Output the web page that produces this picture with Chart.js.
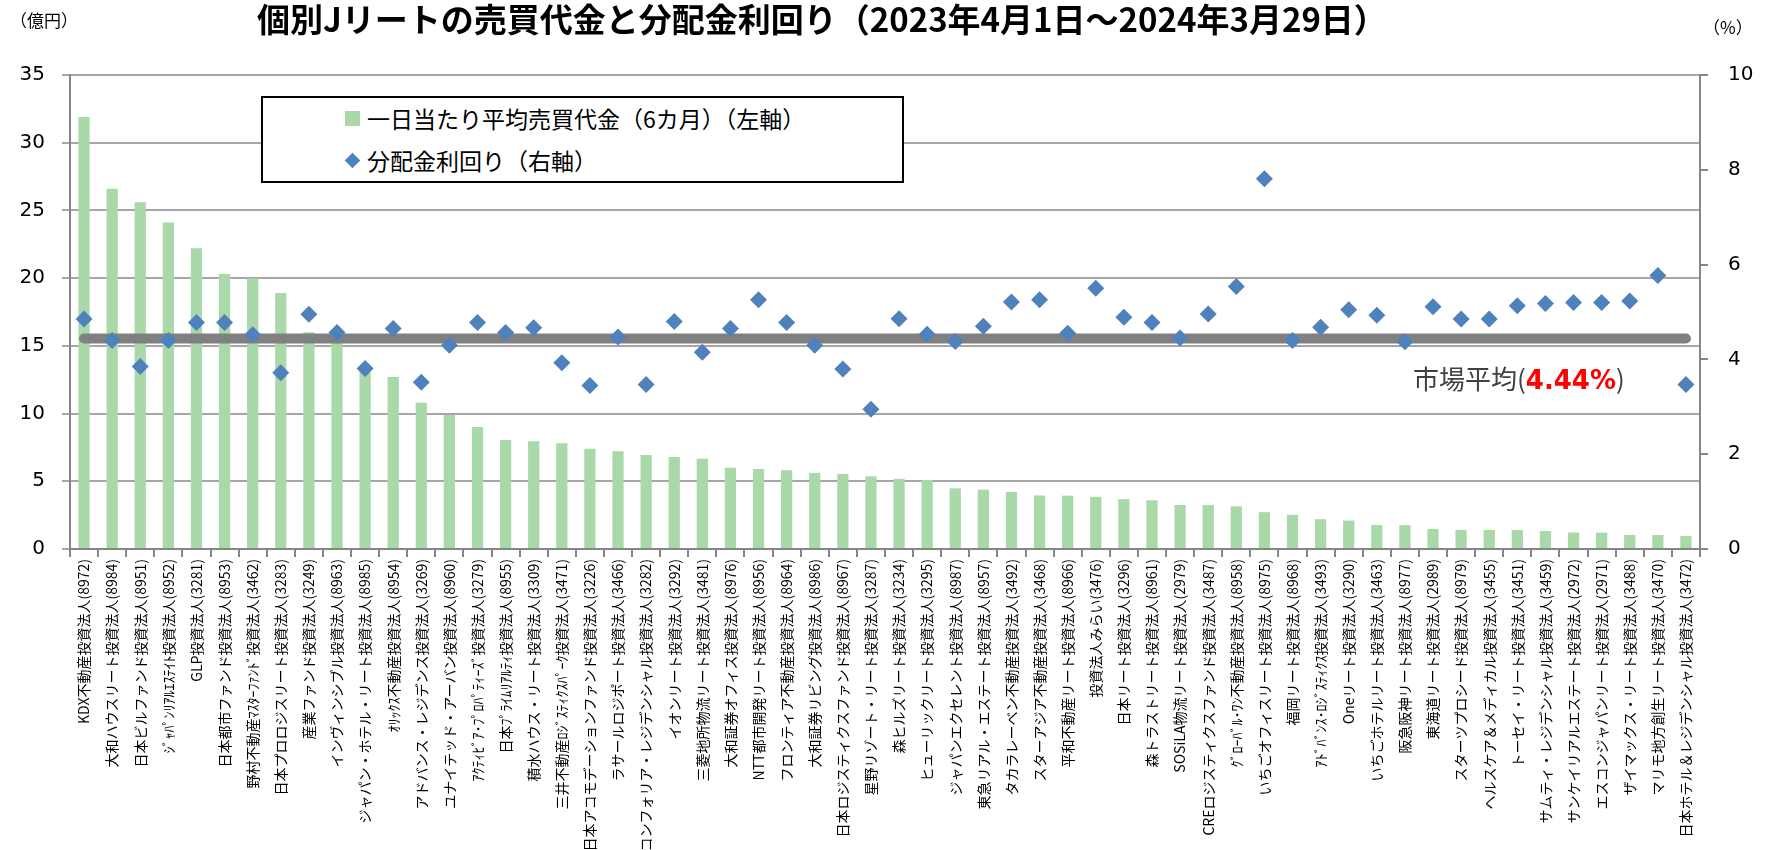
<!DOCTYPE html>
<html lang="ja">
<head>
<meta charset="utf-8">
<title>個別Jリートの売買代金と分配金利回り</title>
<script src="https://cdn.jsdelivr.net/npm/chart.js@4.4.1/dist/chart.umd.min.js"></script>
<style>
  html, body { margin: 0; padding: 0; background: #fff; }
  #wrap { position: relative; width: 1765px; height: 850px; font-family: "Noto Sans CJK JP", sans-serif; color: #000; }
  #chart { position: absolute; left: 0; top: 0; }
  .abs { position: absolute; white-space: nowrap; line-height: 1; }
  #title { left: 257px; top: 2px; font-size: 33px; font-weight: bold; }
  #unitL { left: 10px; top: 11px; font-size: 17px; }
  #unitR { left: 1703px; top: 18px; font-size: 17px; }
  #legend { position: absolute; left: 261px; top: 96px; width: 639px; height: 83px; border: 2px solid #000; background: #fff; }
  #legend .row { position: absolute; left: 104px; font-size: 23px; line-height: 1; white-space: nowrap; }
  #legend .sq { position: absolute; left: -22px; top: 4px; width: 15px; height: 15px; background: #a9d8a9; }
  #legend .dia { position: absolute; left: -20px; top: 6px; width: 11px; height: 11px; background: #4f81bd; transform: rotate(45deg); }
  #avg { left: 1413px; top: 365px; font-size: 26px; color: #404040; }
  #avg b { font-family: "DejaVu Sans", sans-serif; color: #ff0000; font-size: 26px; }
</style>
</head>
<body>
<div id="wrap">
  <canvas id="chart" width="1765" height="850"></canvas>
  <div id="title" class="abs">個別Jリートの売買代金と分配金利回り（2023年4月1日～2024年3月29日）</div>
  <div id="unitL" class="abs">（億円）</div>
  <div id="unitR" class="abs">（%）</div>
  <div id="legend">
    <div class="row" style="top:9px"><span class="sq"></span>一日当たり平均売買代金（6カ月）（左軸）</div>
    <div class="row" style="top:51px"><span class="dia"></span>分配金利回り（右軸）</div>
  </div>
  <div id="avg" class="abs">市場平均(<b>4.44%</b>)</div>
</div>
<script>
// 銘柄名（証券コード）
const labels = [
  'KDX不動産投資法人(8972)', '大和ハウスリート投資法人(8984)', '日本ビルファンド投資法人(8951)',
  'ｼﾞｬﾊﾟﾝﾘｱﾙｴｽﾃｲﾄ投資法人(8952)', 'GLP投資法人(3281)', '日本都市ファンド投資法人(8953)',
  '野村不動産ﾏｽﾀｰﾌｧﾝﾄﾞ投資法人(3462)', '日本プロロジスリート投資法人(3283)', '産業ファンド投資法人(3249)',
  'インヴィンシブル投資法人(8963)', 'ジャパン・ホテル・リート投資法人(8985)', 'ｵﾘｯｸｽ不動産投資法人(8954)',
  'アドバンス・レジデンス投資法人(3269)', 'ユナイテッド・アーバン投資法人(8960)', 'ｱｸﾃｨﾋﾞｱ･ﾌﾟﾛﾊﾟﾃｨｰｽﾞ投資法人(3279)',
  '日本ﾌﾟﾗｲﾑﾘｱﾙﾃｨ投資法人(8955)', '積水ハウス・リート投資法人(3309)', '三井不動産ﾛｼﾞｽﾃｨｸｽﾊﾟｰｸ投資法人(3471)',
  '日本アコモデーションファンド投資法人(3226)', 'ラサールロジポート投資法人(3466)', 'コンフォリア・レジデンシャル投資法人(3282)',
  'イオンリート投資法人(3292)', '三菱地所物流リート投資法人(3481)', '大和証券オフィス投資法人(8976)',
  'NTT都市開発リート投資法人(8956)', 'フロンティア不動産投資法人(8964)', '大和証券リビング投資法人(8986)',
  '日本ロジスティクスファンド投資法人(8967)', '星野リゾート・リート投資法人(3287)', '森ヒルズリート投資法人(3234)',
  'ヒューリックリート投資法人(3295)', 'ジャパンエクセレント投資法人(8987)', '東急リアル・エステート投資法人(8957)',
  'タカラレーベン不動産投資法人(3492)', 'スターアジア不動産投資法人(3468)', '平和不動産リート投資法人(8966)',
  '投資法人みらい(3476)', '日本リート投資法人(3296)', '森トラストリート投資法人(8961)',
  'SOSiLA物流リート投資法人(2979)', 'CREロジスティクスファンド投資法人(3487)', 'ｸﾞﾛｰﾊﾞﾙ･ﾜﾝ不動産投資法人(8958)',
  'いちごオフィスリート投資法人(8975)', '福岡リート投資法人(8968)', 'ｱﾄﾞﾊﾞﾝｽ･ﾛｼﾞｽﾃｨｸｽ投資法人(3493)',
  'Oneリート投資法人(3290)', 'いちごホテルリート投資法人(3463)', '阪急阪神リート投資法人(8977)',
  '東海道リート投資法人(2989)', 'スターツプロシード投資法人(8979)', 'ヘルスケア＆メディカル投資法人(3455)',
  'トーセイ・リート投資法人(3451)', 'サムティ・レジデンシャル投資法人(3459)', 'サンケイリアルエステート投資法人(2972)',
  'エスコンジャパンリート投資法人(2971)', 'ザイマックス・リート投資法人(3488)', 'マリモ地方創生リート投資法人(3470)',
  '日本ホテル＆レジデンシャル投資法人(3472)'
];

// 一日当たり平均売買代金（億円、左軸）
const tradingValue = [
  31.9, 26.6, 25.6, 24.1, 22.2, 20.3, 20.0, 18.9, 16.0, 15.8,
  13.3, 12.7, 10.8, 9.9, 9.0, 8.05, 7.95, 7.8, 7.4, 7.22,
  6.95, 6.8, 6.67, 6.0, 5.9, 5.82, 5.62, 5.55, 5.37, 5.18,
  5.1, 4.48, 4.38, 4.21, 3.95, 3.94, 3.85, 3.68, 3.6, 3.25,
  3.25, 3.15, 2.72, 2.52, 2.2, 2.1, 1.77, 1.76, 1.48, 1.41,
  1.41, 1.4, 1.33, 1.22, 1.21, 1.04, 1.03, 0.96
];

// 分配金利回り（%、右軸）
const distributionYield = [
  4.85, 4.40, 3.85, 4.40, 4.78, 4.78, 4.52, 3.72, 4.95, 4.57,
  3.81, 4.65, 3.52, 4.30, 4.78, 4.57, 4.67, 3.93, 3.45, 4.47,
  3.47, 4.80, 4.15, 4.65, 5.26, 4.78, 4.30, 3.80, 2.95, 4.86,
  4.53, 4.38, 4.70, 5.21, 5.26, 4.55, 5.50, 4.89, 4.78, 4.45,
  4.96, 5.54, 7.81, 4.40, 4.68, 5.05, 4.93, 4.37, 5.11, 4.85,
  4.85, 5.13, 5.18, 5.20, 5.20, 5.23, 5.77, 3.47
];

const MARKET_AVG = 4.44; // 市場平均（%）

const axisGray = '#868686';
const gridGray = '#a6a6a6';

Chart.defaults.font.family = '"Noto Sans CJK JP", sans-serif';
Chart.defaults.color = '#000';

new Chart(document.getElementById('chart').getContext('2d'), {
  data: {
    labels: labels,
    datasets: [
      {
        type: 'line',
        label: '分配金利回り（右軸）',
        data: distributionYield,
        yAxisID: 'y2',
        showLine: false,
        pointStyle: 'rectRot',
        pointRadius: 8.5,
        pointHoverRadius: 8.5,
        pointBackgroundColor: '#4f81bd',
        pointBorderColor: '#4f81bd',
        pointBorderWidth: 0,
        order: 0
      },
      {
        type: 'line',
        label: '市場平均',
        data: labels.map(() => MARKET_AVG),
        yAxisID: 'y2',
        borderColor: '#808080',
        borderWidth: 10,
        borderCapStyle: 'round',
        pointRadius: 0,
        pointHoverRadius: 0,
        order: 1
      },
      {
        type: 'bar',
        label: '一日当たり平均売買代金（6カ月）（左軸）',
        data: tradingValue,
        yAxisID: 'y',
        backgroundColor: '#a9d8a9',
        barPercentage: 0.4,
        categoryPercentage: 1.0,
        order: 2
      }
    ]
  },
  options: {
    responsive: false,
    animation: false,
    layout: { padding: { top: 75, left: 0, right: 0, bottom: 0 } },
    plugins: {
      legend: { display: false },
      title: { display: false },
      tooltip: { enabled: false }
    },
    scales: {
      x: {
        type: 'category',
        offset: true,
        grid: { offset: true, drawOnChartArea: false, drawTicks: true, tickLength: 8, color: axisGray, lineWidth: 2 },
        border: { display: true, color: axisGray, width: 2 },
        ticks: { autoSkip: false, maxRotation: 90, minRotation: 90, padding: 2, font: { size: 14 } },
        afterFit: (scale) => { scale.height = 301; }
      },
      y: {
        position: 'left',
        min: 0,
        max: 35,
        grid: { color: gridGray, lineWidth: 2, tickLength: 8 },
        border: { color: axisGray, width: 2 },
        ticks: { stepSize: 5, padding: 17, font: { family: '"DejaVu Sans", sans-serif', size: 20 } },
        afterFit: (scale) => { scale.width = 70; }
      },
      y2: {
        position: 'right',
        min: 0,
        max: 10,
        grid: { drawOnChartArea: false, color: axisGray, lineWidth: 2, tickLength: 8 },
        border: { color: axisGray, width: 2 },
        ticks: { stepSize: 2, padding: 20, font: { family: '"DejaVu Sans", sans-serif', size: 20 } },
        afterFit: (scale) => { scale.width = 65; }
      }
    }
  }
});
</script>
</body>
</html>
